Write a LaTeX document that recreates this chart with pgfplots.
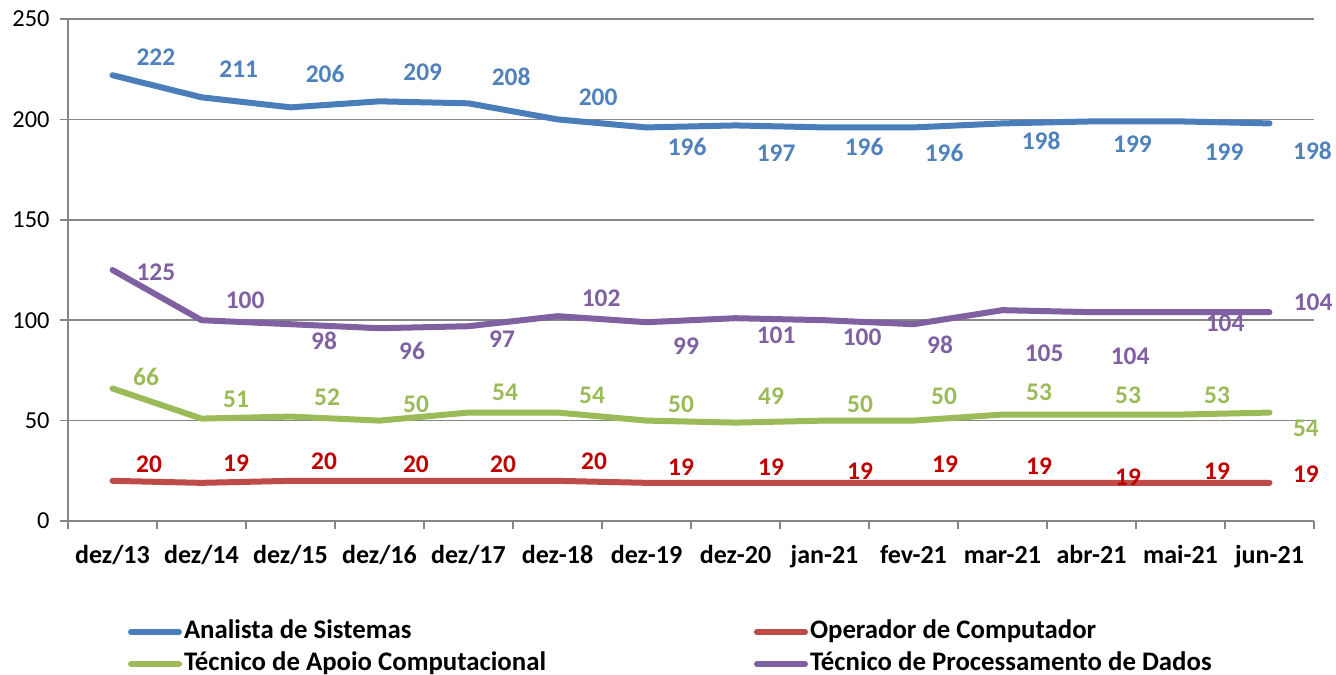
\documentclass[border=0pt]{standalone}
\usepackage{pgfplots}
\usepackage{pgfplotstable}
\pgfplotsset{compat=1.18}
\usepackage{fontspec}
\setmainfont{Carlito}
\definecolor{cblue}{HTML}{4A7EBB}
\definecolor{lblue}{HTML}{4F81BD}
\definecolor{cred}{HTML}{BE4B48}
\definecolor{lred}{HTML}{C00000}
\definecolor{cgreen}{HTML}{9BBB59}
\definecolor{cpurple}{HTML}{7F60A0}
\definecolor{axgray}{HTML}{868686}

\pgfplotstableread{
x y sx sy
0 222 21.7 8.9
1 211 18.6 14.2
2 206 17.3 16.9
3 209 21.6 14.3
4 208 21.3 13.2
5 200 20.3 11.2
6 196 20.3 -9.8
7 197 20.3 -13.8
8 196 19.8 -9.8
9 196 15.3 -12.8
10 198 19.3 -8.8
11 199 20.5 -11.3
12 199 21.8 -15.3
13 198 21.5 -13.8
}\tblue
\pgfplotstableread{
x y sx sy
0 20 18.3 8.5
1 19 17.3 9.8
2 20 16.8 9.6
3 20 18.2 8.5
4 20 17.3 8.4
5 20 18.3 9.9
6 19 17.3 7.9
7 19 17.8 7.9
8 19 17.8 5.9
9 19 15.8 9.4
10 19 18.3 8.4
11 19 18.3 2.9
12 19 18.3 6.0
13 19 18.2 4.5
}\tred
\pgfplotstableread{
x y sx sy
0 66 16.8 5.8
1 51 17.3 9.8
2 52 18.3 9.8
3 50 18.3 8.3
4 54 18.3 10.3
5 54 17.3 8.8
6 50 17.3 8.3
7 49 17.8 13.3
8 50 17.8 8.3
9 50 15.3 12.3
10 53 18.3 11.3
11 53 18.3 9.8
12 53 18.3 9.8
13 54 18.2 -7.9
}\tgreen
\pgfplotstableread{
x y sx sy
0 125 21.7 -0.9
1 100 21.8 10.1
2 98 16.8 -8.4
3 96 16.3 -11.4
4 97 16.8 -6.4
5 102 21.8 9.1
6 99 19.8 -11.9
7 101 20.3 -8.4
8 100 18.8 -8.4
9 98 13.3 -10.4
10 105 20.8 -21.4
11 104 19.3 -21.9
12 104 22.3 -5.4
13 104 21.8 5.1
}\tpurple

\pgfplotsset{
  lbl/.style={
    nodes near coords, point meta=explicit,
    visualization depends on={\thisrow{sx} \as \sx},
    visualization depends on={\thisrow{sy} \as \sy},
    every node near coord/.append style={text=#1, font=\bfseries\fontsize{12.7}{15}\selectfont,
      anchor=center, inner sep=0pt, xshift=\sx pt, yshift=\sy pt},
  },
  ser/.style={color=#1, line width=3pt, line join=round, line cap=round, mark=none},
}

\begin{document}
\begin{tikzpicture}
\begin{axis}[
  name=ax, scale only axis, width=623pt, height=251pt,
  xmin=-0.5, xmax=13.5, ymin=0, ymax=250,
  clip=false,
  /pgf/number format/assume math mode=true,
  axis x line*=bottom, axis y line*=left,
  axis line style={draw=axgray, line width=0.75pt, -},
  ytick={0,50,...,250}, ymajorgrids,
  grid style={draw=axgray, line width=0.75pt},
  xtick={-0.5,0.5,...,13.5}, xticklabels={},
  extra x ticks={0,1,...,13},
  extra x tick labels={dez/13,dez/14,dez/15,dez/16,dez/17,dez-18,dez-19,dez-20,jan-21,fev-21,mar-21,abr-21,mai-21,jun-21},
  extra x tick style={major tick length=0pt, grid=none},
  xticklabel style={font=\bfseries\fontsize{13}{15}\selectfont, anchor=base, yshift=-21pt},
  yticklabel style={font=\fontsize{12.2}{14}\selectfont, anchor=east, inner sep=0pt, xshift=-5pt},
  tick align=outside, major tick length=4pt,
  tick style={draw=axgray, line width=0.75pt},
  legend columns=2,
  legend cell align=left,
  legend style={at={(rel axis cs:0,0)}, anchor=north west, xshift=30pt, yshift=-48.5pt,
    draw=none, fill=none, inner sep=0pt, outer sep=0pt,
    font=\bfseries\fontsize{13.4}{15}\selectfont, row sep=2pt,
    nodes={inner sep=1pt, text height=9pt, text depth=3pt},
    /tikz/every even column/.append style={column sep=103pt}},
  legend image code/.code={\draw[#1, line cap=round] (1.5pt,0pt) -- (25.5pt,0pt);},
]
\addlegendimage{ser=cblue}
\addlegendentry{Analista de Sistemas}
\addlegendimage{ser=cred}
\addlegendentry{Operador de Computador}
\addlegendimage{ser=cgreen}
\addlegendentry{Técnico de Apoio Computacional}
\addlegendimage{ser=cpurple}
\addlegendentry{Técnico de Processamento de Dados}
\addplot[forget plot, ser=cblue, lbl=lblue] table[x=x, y=y, meta=y] {\tblue};
\addplot[forget plot, ser=cred, lbl=lred] table[x=x, y=y, meta=y] {\tred};
\addplot[forget plot, ser=cgreen, lbl=cgreen] table[x=x, y=y, meta=y] {\tgreen};
\addplot[forget plot, ser=cpurple, lbl=cpurple] table[x=x, y=y, meta=y] {\tpurple};
\end{axis}
\pgfresetboundingbox
\useasboundingbox ([xshift=-34pt,yshift=-76.5pt]ax.south west) rectangle ([xshift=11pt,yshift=9.5pt]ax.north east);
\end{tikzpicture}
\end{document}
